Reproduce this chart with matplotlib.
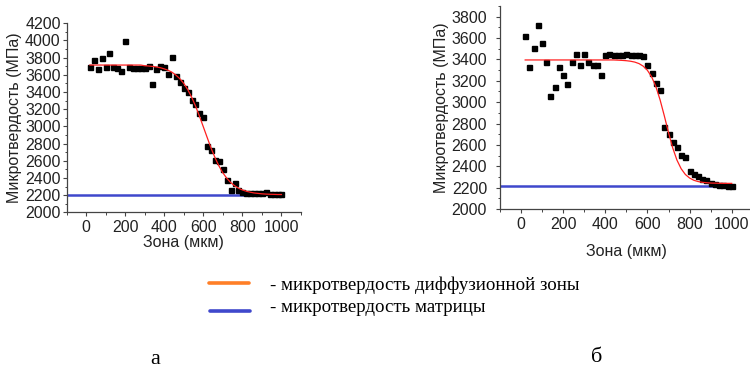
import matplotlib
matplotlib.use("Agg")
import matplotlib.pyplot as plt
from matplotlib.ticker import MultipleLocator
from matplotlib.lines import Line2D

# ---------------- data ----------------
x_pts = list(range(20, 1001, 20))

hv_a = [3690, 3770, 3665, 3795, 3695, 3855, 3695, 3675, 3650, 3995,
        3695, 3680, 3685, 3685, 3680, 3700, 3490, 3665, 3705, 3695,
        3615, 3810, 3585, 3520, 3450, 3405, 3310, 3265, 3160, 3110,
        2775, 2730, 2610, 2595, 2505, 2375, 2255, 2340, 2255, 2235,
        2225, 2222, 2220, 2220, 2220, 2232, 2218, 2218, 2218, 2218]

fit_a = [3714, 3714, 3714, 3714, 3714, 3714, 3714, 3714, 3714, 3714,
         3714, 3714, 3714, 3714, 3706, 3703, 3698, 3692, 3683, 3670,
         3653, 3630, 3597, 3555, 3500, 3430, 3342, 3239, 3121, 2996,
         2870, 2746, 2636, 2540, 2460, 2397, 2347, 2310, 2281, 2260,
         2245, 2234, 2225, 2220, 2215, 2212, 2210, 2209, 2207, 2207]

hv_b = [3620, 3325, 3510, 3720, 3550, 3380, 3060, 3140, 3325, 3255,
        3170, 3380, 3450, 3350, 3450, 3380, 3350, 3350, 3255, 3445,
        3448, 3445, 3442, 3440, 3448, 3440, 3445, 3442, 3435, 3348,
        3275, 3175, 3115, 2765, 2705, 2625, 2580, 2505, 2485, 2355,
        2325, 2305, 2280, 2268, 2245, 2235, 2228, 2222, 2218, 2215]

fit_b = [3395, 3395, 3395, 3395, 3395, 3395, 3395, 3395, 3395, 3395,
         3395, 3395, 3395, 3395, 3395, 3395, 3395, 3395, 3395, 3395,
         3395, 3395, 3393, 3391, 3388, 3383, 3375, 3361, 3337, 3298,
         3237, 3146, 3022, 2873, 2716, 2572, 2458, 2377, 2323, 2290,
         2269, 2257, 2250, 2246, 2243, 2242, 2241, 2240, 2240, 2240]

matrix_a = 2200
matrix_a_x = [-100, 880]
matrix_b = 2215
matrix_b_x = [-100, 1000]

xticks = [0, 200, 400, 600, 800, 1000]
ylim_a = (2000, 4200)
ylim_b = (2000, 3900)
xlim = (-100, 1100)

ylabel = "Микротвердость (МПа)"
xlabel = "Зона (мкм)"
legend_labels = ["- микротвердость диффузионной зоны", "- микротвердость матрицы"]
panel_labels = ["а", "б"]

# ---------------- style ----------------
SANS = ["Liberation Sans", "DejaVu Sans"]
SERIF = ["Liberation Serif", "DejaVu Serif"]
RED = "#ff2020"
BLUE = "#3f48cc"
ORANGE = "#ff7f27"
TXT = "#222222"
AX = "#444444"

fig = plt.figure(figsize=(7.5, 3.71), dpi=100)
W, H = 750, 371


def make_axes(left_px, right_px, top_px, bottom_px):
    return fig.add_axes([left_px / W, 1 - bottom_px / H,
                         (right_px - left_px) / W, (bottom_px - top_px) / H])


def style(ax, ylim, ypad, xlabpad, ylabpad):
    ax.set_xlim(*xlim)
    ax.set_ylim(*ylim)
    ax.set_xticks(xticks)
    ax.xaxis.set_minor_locator(MultipleLocator(100))
    ax.yaxis.set_major_locator(MultipleLocator(200))
    ax.yaxis.set_minor_locator(MultipleLocator(100))
    for s in ["top", "right"]:
        ax.spines[s].set_visible(False)
    for s in ["left", "bottom"]:
        ax.spines[s].set_color(AX)
        ax.spines[s].set_linewidth(0.9)
    ax.tick_params(which="major", direction="out", length=3.2, width=0.8,
                   color=AX, labelsize=11.5, labelcolor=TXT)
    ax.tick_params(which="minor", direction="out", length=1.8, width=0.7, color=AX)
    ax.tick_params(axis="y", which="major", pad=ypad)
    ax.tick_params(axis="x", which="major", pad=2.5)
    for lab in ax.get_xticklabels() + ax.get_yticklabels():
        lab.set_fontfamily(SANS)
    ax.set_xlabel(xlabel, family=SANS, fontsize=11.5, color=TXT, labelpad=xlabpad)
    ax.set_ylabel(ylabel, family=SANS, fontsize=11.5, color=TXT, labelpad=ylabpad)
    ax.patch.set_alpha(0)


# left panel
ax1 = make_axes(66.5, 301, 23.3, 212.3)
ax1.plot(matrix_a_x, [matrix_a, matrix_a], color=BLUE, lw=1.8, zorder=2)
ax1.plot(x_pts, hv_a, ls="none", marker="s", ms=3.6, color="black", zorder=3)
ax1.plot(x_pts, fit_a, color=RED, lw=0.9, zorder=4)
style(ax1, ylim_a, ypad=1.0, xlabpad=0.0, ylabpad=2.0)

# right panel (extends past the right edge, as in the reference)
ax2 = make_axes(499.9, 752.8, 6.0, 209.0)
ax2.plot(matrix_b_x, [matrix_b, matrix_b], color=BLUE, lw=1.8, zorder=2)
ax2.plot(x_pts, hv_b, ls="none", marker="s", ms=3.6, color="black", zorder=3)
ax2.plot(x_pts, fit_b, color=RED, lw=0.9, zorder=4)
style(ax2, ylim_b, ypad=6.0, xlabpad=8.5, ylabpad=2.0)

# legend (drawn manually in figure coordinates)
fig.add_artist(Line2D([209 / W, 249 / W], [1 - 282.5 / H] * 2, color=ORANGE, lw=2.6,
                      solid_capstyle="round"))
fig.add_artist(Line2D([210 / W, 250 / W], [1 - 310.5 / H] * 2, color=BLUE, lw=2.6,
                      solid_capstyle="round"))
fig.text(270 / W, 1 - 285 / H, legend_labels[0], family=SERIF, fontsize=13.6,
         color="black", va="center", ha="left")
fig.text(270 / W, 1 - 307 / H, legend_labels[1], family=SERIF, fontsize=13.6,
         color="black", va="center", ha="left")

fig.text(155 / W, 1 - 359 / H, panel_labels[0], family=SERIF, fontsize=16,
         color="black", va="center", ha="center")
fig.text(597 / W, 1 - 357 / H, panel_labels[1], family=SERIF, fontsize=16,
         color="black", va="center", ha="center")

fig.savefig("out.png", dpi=100, facecolor="white")
